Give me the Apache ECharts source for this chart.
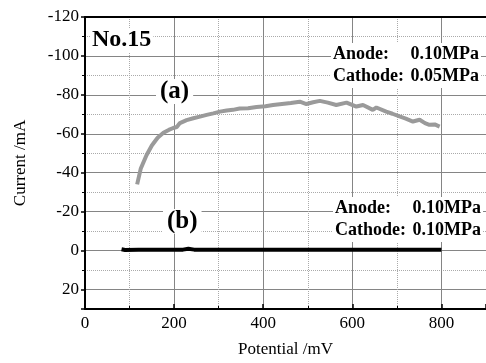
<!DOCTYPE html>
<html>
<head>
<meta charset="utf-8">
<script src="https://cdn.jsdelivr.net/npm/echarts@6/dist/echarts.min.js"></script>
<style>
  html, body {margin: 0; padding: 0; background: #fff;}
  #chart {width: 486px; height: 363px;}
</style>
</head>
<body>
<div id="chart"></div>
<script>
// (a) anode 0.10MPa / cathode 0.05MPa
var potA = [117, 125, 138, 150, 163, 176, 188, 198, 206, 213, 228, 243, 258, 273, 288, 303, 318, 332, 347, 366, 385, 405, 422, 442, 462, 482, 497, 512, 527, 545, 564, 587, 609, 624, 646, 654, 676, 690, 706, 720, 736, 751, 763, 773, 785, 796];
var curA = [-34, -42, -49, -54, -58, -60.5, -62, -63, -63.5, -65.5, -67, -68, -68.8, -69.7, -70.5, -71.4, -72, -72.3, -73, -73.1, -73.8, -74.2, -74.8, -75.3, -75.8, -76.5, -75.3, -76.2, -76.9, -76, -74.8, -76, -74, -74.8, -72.3, -73.5, -71.4, -70.3, -68.9, -67.8, -66.3, -67.2, -65.5, -64.6, -64.8, -63.7];
// (b) anode 0.10MPa / cathode 0.10MPa
var potB = [82, 90, 120, 160, 200, 220, 232, 245, 280, 350, 420, 500, 580, 660, 740, 800];
var curB = [-0.7, -0.3, -0.5, -0.5, -0.5, -0.5, -0.9, -0.5, -0.5, -0.5, -0.5, -0.5, -0.5, -0.5, -0.5, -0.5];

var xTicks = {min: 0, max: 900, step: 200};
var yTicks = {min: -120, max: 30, step: 20};

function pairs(xs, ys) {
    return xs.map(function (x, i) { return [x, ys[i]]; });
}

var serif = '"Liberation Serif", "DejaVu Serif", serif';

var myChart = echarts.init(document.getElementById('chart'));
myChart.setOption({
    animation: false,
    backgroundColor: '#fff',
    grid: {left: 85, right: 0, top: 17, bottom: 53},
    xAxis: [{
        type: 'value',
        position: 'bottom',
        min: xTicks.min, max: xTicks.max, interval: xTicks.step,
        name: 'Potential /mV',
        nameLocation: 'middle',
        nameGap: 32,
        nameTextStyle: {fontFamily: serif, fontSize: 17, color: '#000'},
        axisLine: {onZero: false, lineStyle: {color: '#000', width: 2}},
        axisTick: {inside: true, length: 5, lineStyle: {color: '#000', width: 1.5}},
        minorTick: {show: true, splitNumber: 2, length: 3, lineStyle: {color: '#000'}},
        axisLabel: {fontFamily: serif, fontSize: 17, color: '#000', margin: 6, showMaxLabel: false},
        splitLine: {show: true, showMaxLine: false, lineStyle: {color: '#858585', width: 1}},
        minorSplitLine: {show: true, lineStyle: {color: '#aaaaaa', type: 'dotted', width: 1}}
    }, {
        type: 'value',
        position: 'top',
        min: xTicks.min, max: xTicks.max, interval: xTicks.step,
        axisLine: {onZero: false, lineStyle: {color: '#000', width: 2}},
        axisTick: {show: false},
        axisLabel: {show: false},
        splitLine: {show: false}
    }],
    yAxis: {
        type: 'value',
        inverse: true,
        min: yTicks.min, max: yTicks.max, interval: yTicks.step,
        name: 'Current /mA',
        nameLocation: 'middle',
        nameGap: 56,
        nameTextStyle: {fontFamily: serif, fontSize: 17, color: '#000'},
        axisLine: {show: true, onZero: false, lineStyle: {color: '#000', width: 2}},
        axisTick: {show: true, inside: false, length: 4, lineStyle: {color: '#000', width: 1.5}},
        minorTick: {show: true, splitNumber: 2, length: 3, lineStyle: {color: '#000'}},
        axisLabel: {fontFamily: serif, fontSize: 17, color: '#000', margin: 6, showMaxLabel: false},
        splitLine: {show: true, lineStyle: {color: '#858585', width: 1}},
        minorSplitLine: {show: true, lineStyle: {color: '#aaaaaa', type: 'dotted', width: 1}}
    },
    series: [{
        name: '(a)',
        type: 'line',
        data: pairs(potA, curA),
        showSymbol: false,
        lineStyle: {color: '#9a9a9a', width: 4},
        z: 3
    }, {
        name: '(b)',
        type: 'line',
        data: pairs(potB, curB),
        showSymbol: false,
        lineStyle: {color: '#000', width: 4},
        z: 4
    }],
    graphic: [
        {type: 'text', left: 90, top: 28, z: 10,
            style: {text: 'No.15', font: 'bold 24px ' + serif, fill: '#000', backgroundColor: '#fff', padding: [0, 2]}},
        {type: 'text', left: 156, top: 79, z: 10,
            style: {text: '(a)', font: 'bold 25px ' + serif, fill: '#000', backgroundColor: '#fff', padding: [0, 4]}},
        {type: 'text', left: 163, top: 209, z: 10,
            style: {text: '(b)', font: 'bold 25px ' + serif, fill: '#000', backgroundColor: '#fff', padding: [0, 4]}},
        // condition boxes
        {type: 'rect', shape: {x: 331, y: 43, width: 150, height: 45}, z: 9, style: {fill: '#fff'}},
        {type: 'text', x: 333, y: 54, z: 10, style: {text: 'Anode:', font: 'bold 18px ' + serif, fill: '#000', verticalAlign: 'middle'}},
        {type: 'text', x: 479, y: 54, z: 10, style: {text: '0.10MPa', font: 'bold 18px ' + serif, fill: '#000', align: 'right', verticalAlign: 'middle'}},
        {type: 'text', x: 333, y: 76, z: 10, style: {text: 'Cathode:', font: 'bold 18px ' + serif, fill: '#000', verticalAlign: 'middle'}},
        {type: 'text', x: 479, y: 76, z: 10, style: {text: '0.05MPa', font: 'bold 18px ' + serif, fill: '#000', align: 'right', verticalAlign: 'middle'}},
        {type: 'rect', shape: {x: 333, y: 197, width: 150, height: 45}, z: 9, style: {fill: '#fff'}},
        {type: 'text', x: 335, y: 208, z: 10, style: {text: 'Anode:', font: 'bold 18px ' + serif, fill: '#000', verticalAlign: 'middle'}},
        {type: 'text', x: 481, y: 208, z: 10, style: {text: '0.10MPa', font: 'bold 18px ' + serif, fill: '#000', align: 'right', verticalAlign: 'middle'}},
        {type: 'text', x: 335, y: 230, z: 10, style: {text: 'Cathode:', font: 'bold 18px ' + serif, fill: '#000', verticalAlign: 'middle'}},
        {type: 'text', x: 481, y: 230, z: 10, style: {text: '0.10MPa', font: 'bold 18px ' + serif, fill: '#000', align: 'right', verticalAlign: 'middle'}}
    ]
});
</script>
</body>
</html>
